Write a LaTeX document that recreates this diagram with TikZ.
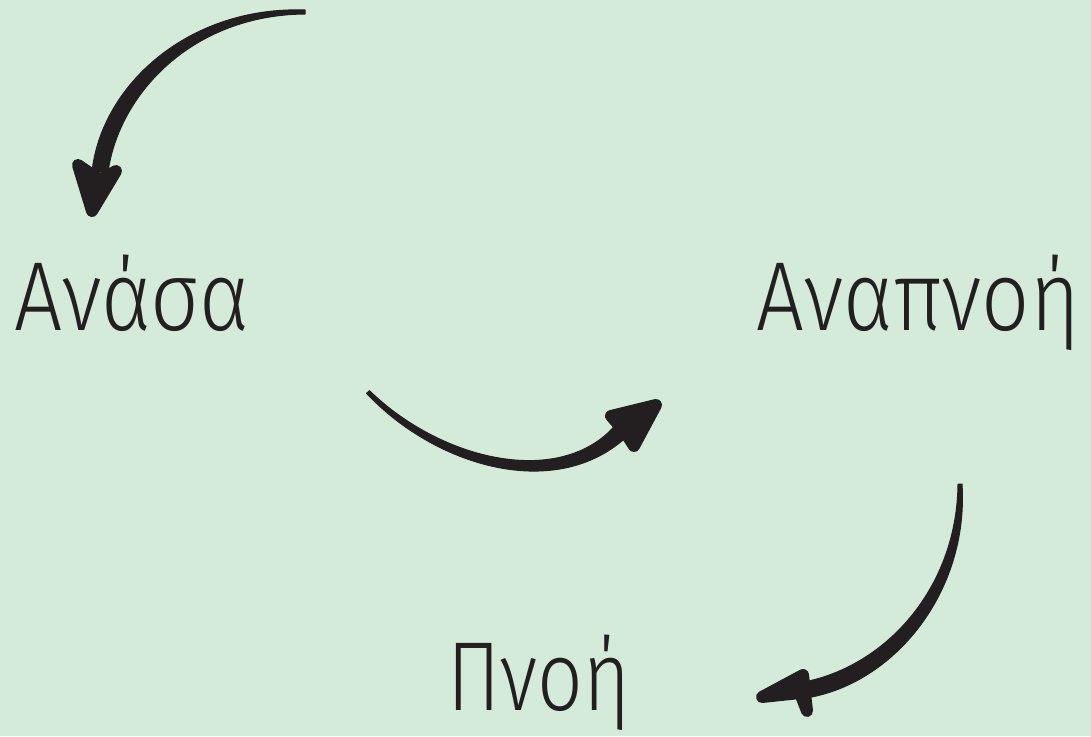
\documentclass[tikz,border=0pt]{standalone}
\usepackage{fontspec}
\setmainfont{Fira Sans Light}
\definecolor{bg}{HTML}{D3EBD8}
\definecolor{ink}{HTML}{231F20}
\tikzset{
  word/.style={inner sep=0pt, text=ink, font=\fontsize{98}{100}\selectfont},
  shaft/.style={fill=ink, draw=ink, line width=1pt, line join=round},
  head/.style={fill=ink, draw=ink, line width=12pt, line join=round}
}
\begin{document}
\begin{tikzpicture}[x=1pt,y=-1pt]
\fill[bg] (0,0) rectangle (1091,736);
\useasboundingbox (0,0) rectangle (1091,736);
\node[word, anchor=base west] (anasa) at (14,330) {\resizebox{236pt}{\height}{Ανάσα}};
\node[word, anchor=base east] (anapnoi) at (1080,330) {\resizebox{323pt}{\height}{Αναπνοή}};
\node[word, anchor=base west] (pnoi) at (447,710) {\resizebox{183pt}{\height}{Πνοή}};
% arrow 1
\fill[shaft] (305,10) .. controls (188,6) and (101,86) .. (92,172)
  -- (108,172) .. controls (119,94) and (192,15) .. (305,14) -- cycle;
\filldraw[head] (78,165) -- (92,211) -- (116,171) -- (100,180) -- cycle;
% arrow 2
\fill[shaft] (369.5,390.7) .. controls (443,462) and (562,488) .. (616,424.5)
  -- (628,435.5) .. controls (558,502) and (437,468) .. (366.5,393.3) -- cycle;
\filldraw[head] (611,416) -- (656,405) -- (634,446) -- (625,432) -- cycle;
% arrow 3
\fill[shaft] (962,484) .. controls (969,592) and (894,684) .. (806,698)
  -- (804,682) .. controls (886,666) and (957,588) .. (958,484) -- cycle;
\filldraw[head] (762,697) -- (803,675) -- (807,711) -- (800,693) -- cycle;
\end{tikzpicture}
\end{document}
